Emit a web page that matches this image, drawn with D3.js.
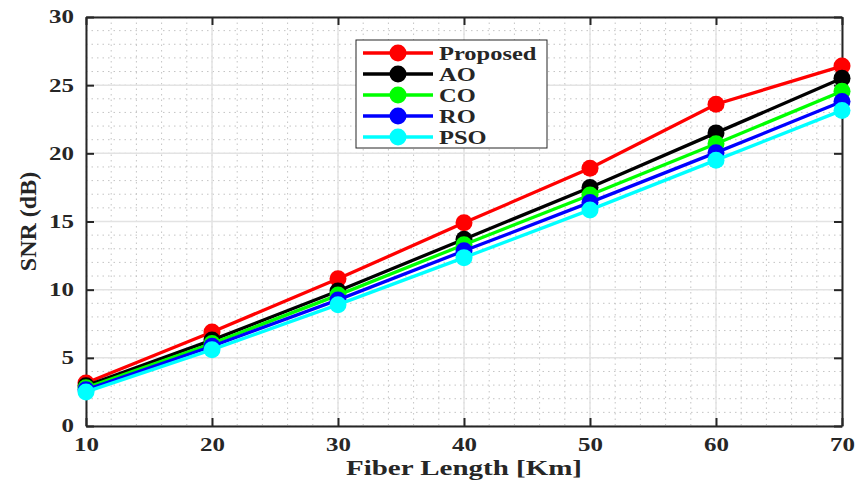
<!DOCTYPE html>
<html>
<head>
<meta charset="utf-8">
<script src="https://cdn.jsdelivr.net/npm/d3@7"></script>
<style>
  body { margin: 0; background: #fff; }
  text { font-family: "Liberation Serif", "Times New Roman", serif; fill: #262626; }
</style>
</head>
<body>
<svg id="chart"></svg>
<script>
const svgWidth = 858;
const svgHeight = 484;

// data
const fiberLength = [10, 20, 30, 40, 50, 60, 70];
const seriesNames = ["Proposed", "AO", "CO", "RO", "PSO"];
const seriesColors = ["#ff0000", "#000000", "#00ff00", "#0000ff", "#00ffff"];
const proposed = [3.15, 6.9, 10.8, 14.9, 18.9, 23.6, 26.4];
const ao = [2.95, 6.3, 9.9, 13.7, 17.5, 21.5, 25.5];
const co = [2.8, 6.05, 9.6, 13.3, 16.95, 20.7, 24.55];
const ro = [2.65, 5.85, 9.25, 12.85, 16.4, 20.05, 23.8];
const psoVals = [2.5, 5.6, 8.9, 12.35, 15.85, 19.5, 23.15];
const seriesValues = [proposed, ao, co, ro, psoVals];
const xTicks = [10, 20, 30, 40, 50, 60, 70];
const yTicks = [0, 5, 10, 15, 20, 25, 30];

const margin = { top: 17, right: 16, bottom: 58, left: 86 };
const width = svgWidth - margin.left - margin.right;
const height = svgHeight - margin.top - margin.bottom;

const svg = d3.select("#chart")
  .attr("width", svgWidth)
  .attr("height", svgHeight);

const g = svg.append("g")
  .attr("transform", `translate(${margin.left},${margin.top})`);

const x = d3.scaleLinear().domain([10, 70]).range([0, width]);
const y = d3.scaleLinear().domain([0, 30]).range([height, 0]);

// minor grid (dotted)
g.append("g").selectAll("line")
  .data(d3.range(10, 70.01, 2))
  .enter().append("line")
  .attr("x1", d => x(d)).attr("x2", d => x(d))
  .attr("y1", 0).attr("y2", height)
  .attr("stroke", "#c4c4c4").attr("stroke-width", 1)
  .attr("stroke-dasharray", "1.5,4");
g.append("g").selectAll("line")
  .data(d3.range(0, 30.01, 1))
  .enter().append("line")
  .attr("x1", 0).attr("x2", width)
  .attr("y1", d => y(d)).attr("y2", d => y(d))
  .attr("stroke", "#c4c4c4").attr("stroke-width", 1)
  .attr("stroke-dasharray", "1.5,4");

// major grid
g.append("g").selectAll("line")
  .data(xTicks)
  .enter().append("line")
  .attr("x1", d => x(d)).attr("x2", d => x(d))
  .attr("y1", 0).attr("y2", height)
  .attr("stroke", "#e3e3e3").attr("stroke-width", 1.5);
g.append("g").selectAll("line")
  .data(yTicks)
  .enter().append("line")
  .attr("x1", 0).attr("x2", width)
  .attr("y1", d => y(d)).attr("y2", d => y(d))
  .attr("stroke", "#e3e3e3").attr("stroke-width", 1.5);

// axes (inward ticks, box)
const xAxis = g.append("g")
  .attr("transform", `translate(0,${height})`)
  .call(d3.axisBottom(x).tickValues(xTicks).tickSizeInner(-8).tickSizeOuter(0).tickPadding(12));
const yAxis = g.append("g")
  .call(d3.axisLeft(y).tickValues(yTicks).tickSizeInner(-8).tickSizeOuter(0).tickPadding(12));
g.append("g")
  .attr("transform", `translate(${width},0)`)
  .call(d3.axisRight(y).tickValues(yTicks).tickSizeInner(-8).tickSizeOuter(0).tickFormat(""));
g.append("g")
  .call(d3.axisTop(x).tickValues(xTicks).tickSizeInner(-8).tickSizeOuter(0).tickFormat(""));

g.selectAll(".domain").attr("stroke", "#262626").attr("stroke-width", 2);
g.selectAll(".tick line").attr("stroke", "#262626").attr("stroke-width", 2);

xAxis.selectAll("text")
  .style("font-family", "Liberation Serif, serif")
  .style("font-weight", "bold")
  .style("font-size", "18.5px")
  .attr("fill", "#262626")
  .attr("transform", "scale(1.35,1)");

yAxis.selectAll("text")
  .style("font-family", "Liberation Serif, serif")
  .style("font-weight", "bold")
  .style("font-size", "18.5px")
  .attr("fill", "#262626")
  .attr("x", -12 / 1.35)
  .attr("transform", "scale(1.35,1)");

// lines + markers
const line = d3.line()
  .x((d, i) => x(fiberLength[i]))
  .y(d => y(d));

seriesValues.forEach((vals, s) => {
  g.append("path")
    .datum(vals)
    .attr("fill", "none")
    .attr("stroke", seriesColors[s])
    .attr("stroke-width", 3.3)
    .attr("d", line);
  g.selectAll(".pt" + s)
    .data(vals)
    .enter().append("circle")
    .attr("class", "pt" + s)
    .attr("cx", (d, i) => x(fiberLength[i]))
    .attr("cy", d => y(d))
    .attr("r", 8.5)
    .attr("fill", seriesColors[s]);
});

// axis titles
svg.append("text")
  .attr("transform", `translate(${margin.left + width / 2},${svgHeight - 9}) scale(1.38,1)`)
  .attr("text-anchor", "middle")
  .style("font-weight", "bold")
  .style("font-size", "21px")
  .text("Fiber Length [Km]");

svg.append("text")
  .attr("transform", `translate(36,${margin.top + height / 2}) rotate(-90)`)
  .attr("text-anchor", "middle")
  .style("font-size", "24px")
  .style("font-weight", "600")
  .text("SNR (dB)");

// legend
const legend = svg.append("g").attr("transform", "translate(356,40)");
legend.append("rect")
  .attr("width", 191).attr("height", 108)
  .attr("fill", "#fff")
  .attr("stroke", "#262626").attr("stroke-width", 1);

seriesNames.forEach((name, s) => {
  const row = legend.append("g").attr("transform", `translate(0,${13 + s * 21})`);
  row.append("line")
    .attr("x1", 7).attr("x2", 77)
    .attr("stroke", seriesColors[s]).attr("stroke-width", 3.3);
  row.append("circle")
    .attr("cx", 42).attr("r", 8.5)
    .attr("fill", seriesColors[s]);
  row.append("text")
    .attr("transform", "translate(83,6.5) scale(1.36,1)")
    .style("font-weight", "bold")
    .style("font-size", "18px")
    .attr("fill", "#000")
    .text(name);
});
</script>
</body>
</html>
